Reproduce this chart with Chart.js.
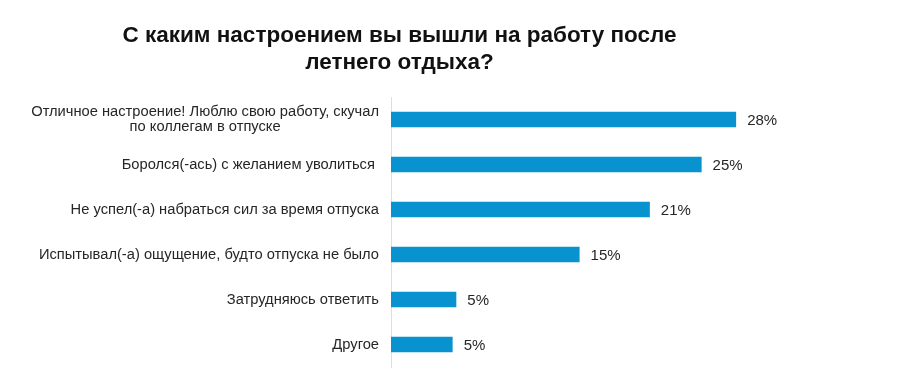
<!DOCTYPE html>
<html>
<head>
<meta charset="utf-8">
<script src="https://cdn.jsdelivr.net/npm/chart.js@4/dist/chart.umd.min.js"></script>
<style>
  html, body { margin: 0; padding: 0; background: #fff; }
  #wrap { width: 900px; height: 388px; }
</style>
</head>
<body>
<div id="wrap"><canvas id="chart"></canvas></div>
<script>
var titleLines = ["С каким настроением вы вышли на работу после", "летнего отдыха?"];
var categories = [
  ["Отличное настроение! Люблю свою работу, скучал", "по коллегам в отпуске"],
  "Боролся(-ась) с желанием уволиться ",
  "Не успел(-а) набраться сил за время отпуска",
  "Испытывал(-а) ощущение, будто отпуска не было",
  "Затрудняюсь ответить",
  "Другое"
];
var shares = [28, 25.2, 21, 15.3, 5.3, 5.0];
var barColor = "#0892d0";
var textColor = "#262626";

// category labels drawn by hand so wrapped lines stay centred on each other
var labelPlugin = {
  id: "labels",
  afterDatasetsDraw: function(chart) {
    var ctx = chart.ctx;
    var y = chart.scales.y;
    var meta = chart.getDatasetMeta(0);
    ctx.save();
    ctx.fillStyle = textColor;
    ctx.textBaseline = "middle";
    ctx.font = "14.7px 'Liberation Sans', Arial, sans-serif";
    categories.forEach(function(lab, i) {
      var lines = [].concat(lab);
      var cy = y.getPixelForTick(i);
      var right = chart.chartArea.left - 12;
      var w = Math.max.apply(null, lines.map(function(l) { return ctx.measureText(l).width; }));
      ctx.textAlign = "center";
      lines.forEach(function(l, k) {
        ctx.fillText(l, right - w / 2, cy + (k - (lines.length - 1) / 2) * 15);
      });
    });
    ctx.font = "15px 'Liberation Sans', Arial, sans-serif";
    ctx.textAlign = "left";
    meta.data.forEach(function(bar, i) {
      ctx.fillText(Math.round(shares[i]) + "%", bar.x + 11, bar.y + 1);
    });
    ctx.restore();
  }
};

new Chart(document.getElementById("chart"), {
  type: "bar",
  data: {
    labels: categories,
    datasets: [{
      data: shares,
      backgroundColor: barColor,
      borderWidth: 0,
      barPercentage: 0.69,
      categoryPercentage: 0.5
    }]
  },
  plugins: [labelPlugin],
  options: {
    indexAxis: "y",
    responsive: true,
    maintainAspectRatio: false,
    animation: false,
    layout: { padding: { left: 0, right: 101, top: 0, bottom: 21 } },
    plugins: {
      legend: { display: false },
      tooltip: { enabled: false },
      title: {
        display: true,
        text: titleLines,
        color: "#111",
        font: { family: "'Liberation Sans', Arial, sans-serif", size: 22.5, weight: "bold", lineHeight: 1.18 },
        padding: { top: 23, bottom: 21 }
      }
    },
    scales: {
      x: { display: false, min: 0, max: 33.1 },
      y: {
        afterFit: function(s) { s.width = 391; },
        ticks: { display: false },
        grid: { display: false },
        border: { display: true, color: "#dedede", width: 1 }
      }
    }
  }
});
</script>
</body>
</html>
